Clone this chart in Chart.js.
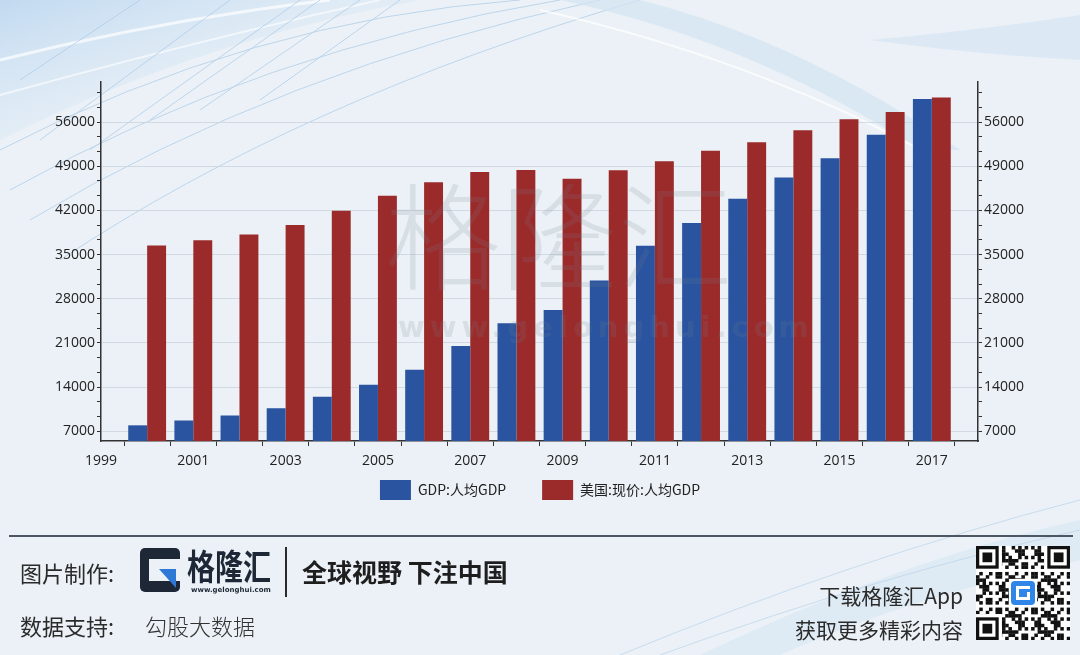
<!DOCTYPE html>
<html>
<head>
<meta charset="utf-8">
<script src="https://cdn.jsdelivr.net/npm/chart.js@4/dist/chart.umd.min.js"></script>
<style>
    html, body { margin: 0; padding: 0; }
    body {
        width: 1080px; height: 655px; position: relative; overflow: hidden;
        background: #ebf1f6;
        font-family: "Noto Sans CJK SC", "Noto Sans", sans-serif;
    }
    #bg { position: absolute; left: 0; top: 0; }
    #chartBox { position: absolute; left: 0; top: 0; width: 1080px; height: 655px; }
    .wm { position: absolute; color: rgba(120, 130, 140, 0.17); pointer-events: none; white-space: nowrap; }
    #wm1 { left: 385px; top: 165px; font-size: 116px; line-height: 130px; font-weight: 300; }
    #wm2 { left: 398px; top: 310px; font-size: 29px; font-weight: bold; letter-spacing: 5px; font-family: "DejaVu Sans", sans-serif; }
    #rule { position: absolute; left: 9px; top: 535px; width: 1064px; height: 2px; background: #4d5763; }
    .ft { position: absolute; white-space: nowrap; color: #2b2b2b; }
    #made { left: 20px; top: 556px; font-size: 22px; }
    #data { left: 20px; top: 609px; font-size: 22px; }
    #data span { position: absolute; left: 125px; top: 0; font-weight: 300; color: #333; }
    #logoText { left: 187px; top: 545px; font-size: 35px; line-height: 40px; font-weight: bold; color: #1d2736;
                transform: scaleX(0.8); transform-origin: left top; }
    #logoUrl { left: 191px; top: 586px; font-size: 7px; font-weight: bold; color: #1d2736; font-family: "DejaVu Sans", sans-serif; }
    #divider { position: absolute; left: 285px; top: 547px; width: 2px; height: 50px; background: #2b2b2b; }
    #slogan { left: 302px; top: 553px; font-size: 25px; font-weight: bold; color: #1e1e1e; }
    #app1 { right: 117px; top: 580px; font-size: 21px; text-align: right; }
    #app2 { right: 117px; top: 614px; font-size: 21px; text-align: right; }
    #logoIcon { position: absolute; left: 140px; top: 548px; }
    #qr { position: absolute; left: 976px; top: 546px; }
</style>
</head>
<body>
<svg id="bg" width="1080" height="655" viewBox="0 0 1080 655">
    <defs>
        <linearGradient id="sky" x1="0" y1="0" x2="1" y2="1">
            <stop offset="0" stop-color="#bcd7f0" stop-opacity="0.9"/>
            <stop offset="0.5" stop-color="#d6e6f5" stop-opacity="0.4"/>
            <stop offset="1" stop-color="#ebf1f6" stop-opacity="0"/>
        </linearGradient>
    </defs>
    <path d="M0 0 L420 0 Q200 40 0 140 Z" fill="url(#sky)"/>
    <path d="M0 60 Q160 20 330 0" stroke="#ffffff" stroke-width="3" fill="none" opacity="0.7"/>
    <path d="M0 95 Q200 40 380 0" stroke="#ffffff" stroke-width="2" fill="none" opacity="0.6"/>
    <g stroke="#a9c9e8" stroke-width="1" fill="none" opacity="0.7">
        <path d="M0 150 Q250 20 520 0"/>
        <path d="M10 190 Q260 50 560 0"/>
        <path d="M30 220 Q280 70 600 0"/>
        <path d="M60 260 Q300 100 640 0"/>
        <path d="M20 80 L140 0"/>
        <path d="M40 140 L230 0"/>
        <path d="M90 150 L300 0"/>
        <path d="M150 120 L320 0"/>
        <path d="M200 110 L360 0"/>
        <path d="M260 100 L400 0"/>
    </g>
    <path d="M560 0 Q750 40 920 150 L960 150 Q800 40 640 0 Z" fill="#d3e4f3" opacity="0.7"/>
    <path d="M540 10 Q760 60 940 160" stroke="#ffffff" stroke-width="2" fill="none" opacity="0.7"/>
    <path d="M870 40 Q980 30 1080 15 L1080 60 Q980 55 870 40 Z" fill="#d8e7f4" opacity="0.8"/>
    <path d="M700 655 Q900 560 1080 520 L1080 560 Q900 600 780 655 Z" fill="#d9e7f3" opacity="0.7"/>
    <g stroke="#b9d3ea" stroke-width="1" fill="none" opacity="0.7">
        <path d="M620 655 Q850 560 1080 500"/>
        <path d="M660 655 Q880 575 1080 530"/>
    </g>
</svg>

<div id="chartBox"><canvas id="chart" width="1080" height="655"></canvas></div>

<div class="wm" id="wm1">格隆汇</div>
<div class="wm" id="wm2">www.gelonghui.com</div>

<div id="rule"></div>
<div class="ft" id="made">图片制作:</div>
<svg id="logoIcon" width="40" height="44" viewBox="0 0 40 44">
    <rect x="0" y="0" width="40" height="44" rx="5" fill="#1d2736"/>
    <rect x="9" y="11" width="31" height="22" fill="#ebf1f6"/>
    <polygon points="19,21 36,21 36,40" fill="#2f79d6"/>
</svg>
<div class="ft" id="logoText">格隆汇</div>
<div class="ft" id="logoUrl">www.gelonghui.com</div>
<div id="divider"></div>
<div class="ft" id="slogan">全球视野 下注中国</div>
<div class="ft" id="data">数据支持:<span>勾股大数据</span></div>
<div class="ft" id="app1">下载格隆汇App</div>
<div class="ft" id="app2">获取更多精彩内容</div>
<canvas id="qr" width="94" height="94"></canvas>

<script>
// ---- data ----
const years = [2000, 2001, 2002, 2003, 2004, 2005, 2006, 2007, 2008,
               2009, 2010, 2011, 2012, 2013, 2014, 2015, 2016, 2017];
const chinaGdpPerCapita = [7942, 8717, 9506, 10666, 12487, 14368, 16738, 20505, 24121,
                           26222, 30876, 36403, 40007, 43852, 47203, 50251, 53980, 59660];
const usGdpPerCapita = [36450, 37274, 38166, 39677, 41922, 44308, 46437, 48062, 48401,
                        47002, 48374, 49790, 51450, 52782, 54697, 56444, 57588, 59900];
const seriesNames = ['GDP:人均GDP', '美国:现价:人均GDP'];
const axisYears = [1999, ...years, 2018];

const yMin = 5460;
const yMax = 62340;
const yStep = 7000;   // labelled ticks; minor ticks at a third of it

const blue = '#2a54a0';
const red = '#9b2a2b';
const axisColor = '#333';
const tickFont = { family: '"Open Sans", "Noto Sans", sans-serif', size: 14 };

const pad = arr => [null, ...arr, null];

const isMajor = v => Math.abs(v / yStep - Math.round(v / yStep)) < 1e-6;

function buildYTicks(scale) {
    const ticks = [];
    const k0 = Math.ceil(yMin / (yStep / 3));
    for (let k = k0; k * yStep / 3 <= yMax; k++) {
        ticks.push({ value: k % 3 === 0 ? (k / 3) * yStep : k * yStep / 3 });
    }
    scale.ticks = ticks;
}

function yAxis(position) {
    return {
        type: 'linear',
        position: position,
        min: yMin,
        max: yMax,
        afterBuildTicks: buildYTicks,
        afterFit: s => { s.width = position === 'left' ? 101 : 102; },
        border: { color: axisColor, width: 1.5 },
        grid: {
            drawOnChartArea: position === 'left',
            color: ctx => (ctx.tick && isMajor(ctx.tick.value)) ? 'rgba(200,210,220,0.75)' : 'rgba(0,0,0,0)',
            tickColor: axisColor,
            tickLength: 4,
            lineWidth: 1
        },
        ticks: {
            autoSkip: false,
            padding: 2,
            color: '#222',
            font: tickFont,
            callback: v => isMajor(v) ? String(Math.round(v)) : ''
        }
    };
}

// pull the legend up closer to the x axis (its padding also spaces the items apart)
const legendLift = {
    id: 'legendLift',
    afterLayout(chart) {
        if (chart.legend) {
            chart.legend.top -= 27;
            chart.legend.bottom -= 27;
        }
    }
};

new Chart(document.getElementById('chart'), {
    type: 'bar',
    data: {
        labels: axisYears.map(String),
        datasets: [
            { label: seriesNames[0], data: pad(chinaGdpPerCapita), backgroundColor: blue, yAxisID: 'y' },
            { label: seriesNames[1], data: pad(usGdpPerCapita), backgroundColor: red, yAxisID: 'y' }
        ]
    },
    plugins: [legendLift],
    options: {
        responsive: false,
        animation: false,
        events: [],
        layout: { padding: { top: 82, left: 0, right: 0, bottom: 118 } },
        datasets: { bar: { categoryPercentage: 0.82, barPercentage: 1.0 } },
        plugins: {
            tooltip: { enabled: false },
            legend: {
                position: 'bottom',
                labels: {
                    boxWidth: 31,
                    boxHeight: 20,
                    padding: 36,
                    color: '#222',
                    font: { family: '"Noto Sans CJK SC", "Open Sans", sans-serif', size: 14 }
                }
            }
        },
        scales: {
            x: {
                type: 'category',
                offset: false,
                afterFit: s => { s.height = 30; },
                border: { color: axisColor, width: 1.5 },
                grid: { drawOnChartArea: false, tickColor: axisColor, tickLength: 5 },
                ticks: {
                    autoSkip: false,
                    maxRotation: 0,
                    padding: 7,
                    color: '#222',
                    font: tickFont,
                    callback: function (v) {
                        const yr = Number(this.getLabelForValue(v));
                        return (yr % 2 === 1 && yr < 2018) ? String(yr) : '';
                    }
                }
            },
            y: yAxis('left'),
            y2: yAxis('right')
        }
    }
});

// ---- QR-like decoration in the footer ----
(function drawQr() {
    const c = document.getElementById('qr').getContext('2d');
    const n = 29, cell = 94 / n;
    c.fillStyle = '#ffffff';
    c.fillRect(0, 0, 94, 94);
    c.fillStyle = '#111';
    for (let i = 0; i < n; i++) {
        for (let j = 0; j < n; j++) {
            if (((i * 31 + j * 17 + i * j * 7) % 11) < 5) c.fillRect(j * cell, i * cell, cell + 0.3, cell + 0.3);
        }
    }
    const finder = (x, y) => {
        c.fillStyle = '#111'; c.fillRect(x * cell, y * cell, 7 * cell, 7 * cell);
        c.fillStyle = '#fff'; c.fillRect((x + 1) * cell, (y + 1) * cell, 5 * cell, 5 * cell);
        c.fillStyle = '#111'; c.fillRect((x + 2) * cell, (y + 2) * cell, 3 * cell, 3 * cell);
    };
    c.fillStyle = '#fff';
    c.fillRect(0, 0, 8 * cell, 8 * cell);
    c.fillRect((n - 8) * cell, 0, 8 * cell, 8 * cell);
    c.fillRect(0, (n - 8) * cell, 8 * cell, 8 * cell);
    finder(0, 0); finder(n - 7, 0); finder(0, n - 7);
    c.fillStyle = '#fff';
    c.fillRect(33, 33, 28, 28);
    c.fillStyle = '#2f86e8';
    c.beginPath();
    c.roundRect ? c.roundRect(35, 35, 24, 24, 4) : c.rect(35, 35, 24, 24);
    c.fill();
    c.fillStyle = '#fff';
    c.fillRect(40, 40, 14, 3); c.fillRect(40, 40, 3, 14); c.fillRect(40, 51, 14, 3); c.fillRect(51, 46, 3, 8);
})();
</script>
</body>
</html>
